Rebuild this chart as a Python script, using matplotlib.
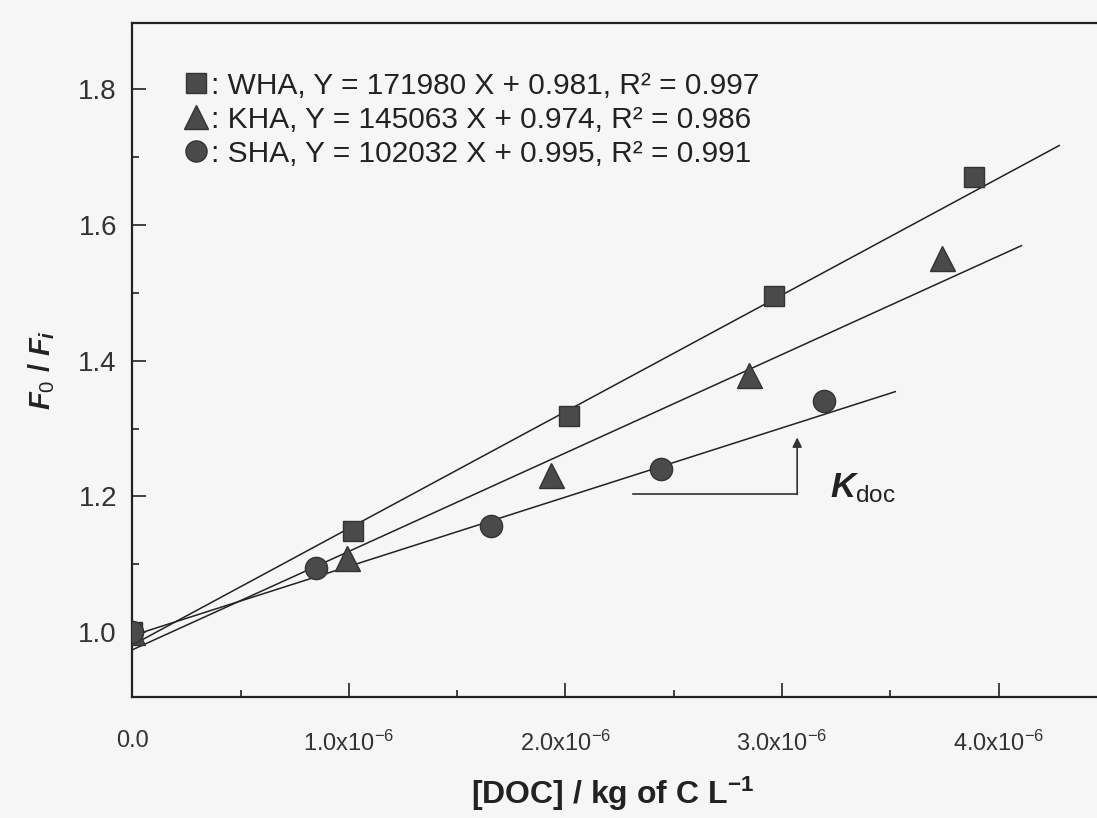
import matplotlib.pyplot as plt
from matplotlib.ticker import MultipleLocator, FuncFormatter

plt.rcParams['font.family'] = ['Liberation Sans', 'DejaVu Sans']
plt.rcParams['mathtext.fontset'] = 'custom'
plt.rcParams['mathtext.rm'] = 'Liberation Sans'
plt.rcParams['mathtext.it'] = 'Liberation Sans:italic:bold'
plt.rcParams['mathtext.bf'] = 'Liberation Sans:bold'

# data, DOC in kg of C / L
names = ["WHA", "KHA", "SHA"]
markers = ["s", "^", "o"]
doc_wha = [0.0, 1.02e-6, 2.016e-6, 2.965e-6, 3.888e-6]
f_wha = [1.0, 1.149, 1.319, 1.495, 1.671]
doc_kha = [0.0, 0.993e-6, 1.934e-6, 2.846e-6, 3.74e-6]
f_kha = [1.0, 1.110, 1.231, 1.379, 1.551]
doc_sha = [0.0, 0.847e-6, 1.655e-6, 2.44e-6, 3.196e-6]
f_sha = [1.0, 1.094, 1.156, 1.240, 1.341]

# regression results from the legend
slopes = [171980, 145063, 102032]
intercepts = [0.981, 0.974, 0.995]
r2 = [0.997, 0.986, 0.991]
fit_end = [4.28e-6, 4.105e-6, 3.523e-6]

xs = [doc_wha, doc_kha, doc_sha]
ys = [f_wha, f_kha, f_sha]
msizes = [15, 18, 16]

fig = plt.figure(figsize=(10.97, 8.18), dpi=100)
fig.patch.set_facecolor('#f6f6f6')
ax = fig.add_axes([132.2 / 1097, 121 / 818, (1097 - 132.2) / 1097, (697 - 22.7) / 818])
ax.set_facecolor('none')

for i in range(3):
    lx = [0.0, fit_end[i]]
    ly = [intercepts[i] + slopes[i] * v for v in lx]
    ax.plot(lx, ly, color='#222222', lw=1.1, zorder=2)

handles = []
for i in range(3):
    lab = f": {names[i]}, Y = {slopes[i]} X + {intercepts[i]:.3f}, R\u00b2 = {r2[i]:.3f}"
    h, = ax.plot(xs[i], ys[i], markers[i], ls='none', ms=msizes[i],
                 color='#4a4a4a', mec='#333333', mew=1.0, label=lab, zorder=3)
    handles.append(h)

leg = ax.legend(handles=handles, loc='upper left', bbox_to_anchor=(0.041, 0.945),
                frameon=False, fontsize=21.5, handlelength=0.85, handletextpad=0.05,
                labelspacing=0.2, borderaxespad=0, markerscale=0.95)
for t in leg.get_texts():
    t.set_color('#222222')

# K_doc slope triangle
kx0, kx1, ky0, ky1 = 2.31e-6, 3.07e-6, 1.203, 1.287
ax.plot([kx0, kx1], [ky0, ky0], color='#333333', lw=1.2)
ax.annotate('', xy=(kx1, ky1), xytext=(kx1, ky0),
            arrowprops=dict(arrowstyle='-|>', color='#333333', lw=1.2,
                            mutation_scale=14, shrinkA=0, shrinkB=0))
ax.text(3.22e-6, 1.212, r"$K_{\mathrm{doc}}$", fontsize=25, color='#222222',
        va='center', ha='left')

ax.set_xlim(0, (1097 - 132.2) / 216.6 * 1e-6)
ax.set_ylim(0.9046, 1.898)

ax.xaxis.set_major_locator(MultipleLocator(1e-6))
ax.xaxis.set_minor_locator(MultipleLocator(0.5e-6))
ax.yaxis.set_major_locator(MultipleLocator(0.2))
ax.yaxis.set_minor_locator(MultipleLocator(0.1))


def xfmt(v, pos):
    if abs(v) < 1e-12:
        return "0.0"
    return f"{v / 1e-6:.1f}x10$^{{-6}}$"


ax.xaxis.set_major_formatter(FuncFormatter(xfmt))
ax.yaxis.set_major_formatter(FuncFormatter(lambda v, p: f"{v:.1f}"))

ax.tick_params(which='both', direction='in', top=False, right=False, width=1.2, color='#222222')
ax.tick_params(which='major', length=10)
ax.tick_params(which='minor', length=5)
ax.tick_params(axis='x', labelsize=17, pad=24, labelcolor='#333333')
ax.tick_params(axis='y', labelsize=20, pad=11, labelcolor='#333333')

for s in ['left', 'bottom', 'top']:
    ax.spines[s].set_linewidth(1.6)
    ax.spines[s].set_color('#222222')
ax.spines['right'].set_visible(False)

ax.set_xlabel("[DOC] / kg of C L$^{\\mathbf{-1}}$", fontsize=23, fontweight='bold', color='#222222')
ax.xaxis.set_label_coords((613 - 132.2) / (1097 - 132.2), -(775 - 697) / (697 - 22.7))
ax.set_ylabel("$F_0$ / $F_i$", fontsize=21, fontweight='bold', color='#222222')
ax.yaxis.set_label_coords(-(133 - 58) / 965, (697 - 370) / (697 - 22.7))

fig.savefig('out.png', dpi=100, facecolor=fig.get_facecolor())
